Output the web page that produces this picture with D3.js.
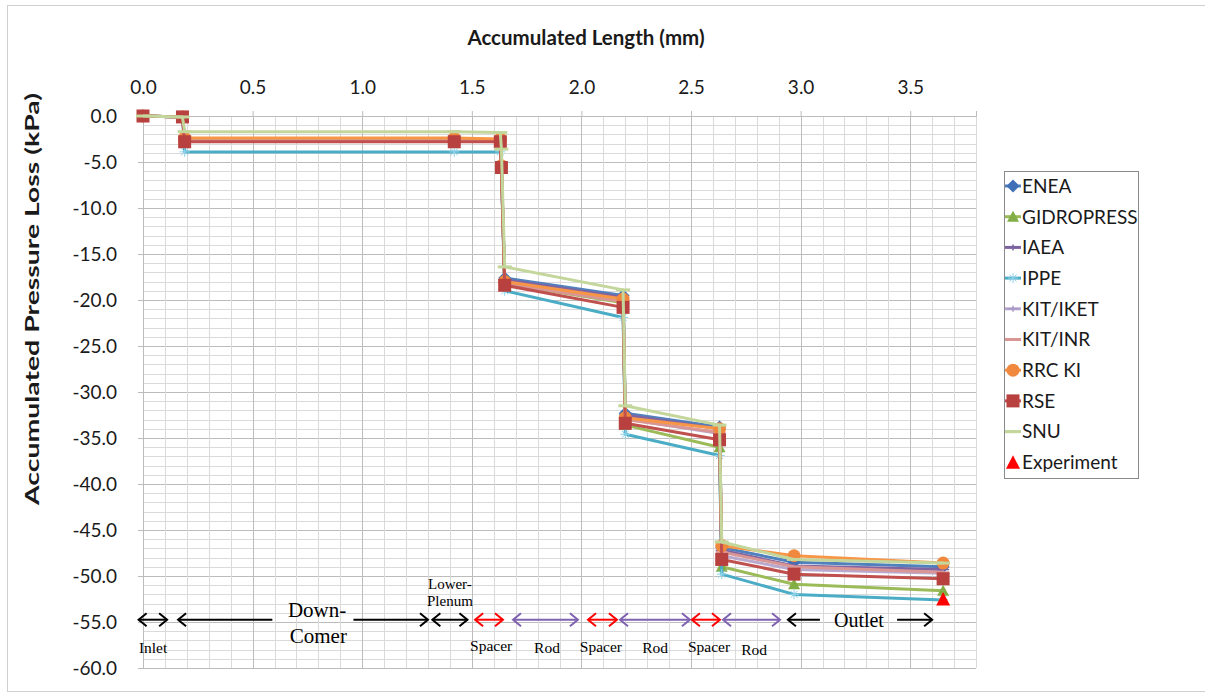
<!DOCTYPE html>
<html>
<head>
<meta charset="utf-8">
<script src="https://cdn.jsdelivr.net/npm/d3@7"></script>
<style>
  body { margin: 0; background: #fff; }
  .sans { font-family: Lato, "Open Sans", sans-serif; }
  .serif { font-family: "Liberation Serif", "DejaVu Serif", serif; }
</style>
</head>
<body>
<svg id="chart" width="1205" height="700"></svg>
<script>
// Accumulated length along the loop (mm) at each calculation node
const lengths = [0, 0.18, 0.19, 1.42, 1.63, 1.635, 1.65, 2.19, 2.2, 2.63, 2.64, 2.97, 3.65];

// Accumulated pressure loss (kPa) per participant
const enea       = [0, -0.1, -2.5, -2.5, -2.6, -5.5, -17.6, -19.5, -32.3, -33.8, -46.9, -48.5, -49.0];
const gidropress = [0, -0.1, -2.6, -2.6, -2.7, -5.6, -18.2, -20.3, -33.6, -36.0, -49.0, -50.9, -51.6];
const iaea       = [0, -0.1, -2.6, -2.6, -2.7, -5.5, -17.8, -19.7, -32.5, -34.0, -47.2, -48.9, -49.3];
const ippe       = [0, -0.1, -3.9, -3.9, -3.9, -5.8, -19.0, -21.9, -34.6, -36.9, -49.8, -52.0, -52.6];
const kitIket    = [0, -0.1, -2.7, -2.7, -2.7, -5.6, -18.1, -20.0, -32.9, -34.5, -47.8, -49.3, -49.7];
const kitInr     = [0, -0.1, -2.7, -2.7, -2.8, -5.6, -18.2, -20.2, -33.0, -34.4, -47.4, -49.0, -49.6];
const rrcKi      = [0, -0.1, -2.4, -2.4, -2.5, -5.4, -18.0, -19.9, -32.8, -34.0, -46.7, -47.8, -48.6];
const rse        = [0, -0.1, -2.8, -2.8, -2.8, -5.6, -18.4, -20.8, -33.4, -35.2, -48.2, -49.8, -50.3];
const snu        = [0, -0.1, -1.7, -1.7, -1.8, -3.6, -16.4, -18.9, -31.5, -33.6, -46.3, -48.2, -48.6];

// Measured outlet value
const expLength = [3.65];
const expLoss   = [-52.5];

const seriesNames = ["ENEA", "GIDROPRESS", "IAEA", "IPPE", "KIT/IKET", "KIT/INR", "RRC KI", "RSE", "SNU", "Experiment"];

// Axis ticks
const xTicks = [0, 0.5, 1.0, 1.5, 2.0, 2.5, 3.0, 3.5];
const yTicks = [0, -5, -10, -15, -20, -25, -30, -35, -40, -45, -50, -55, -60];

// Section annotations along the flow path (positions in mm / kPa)
const spanFrom  = [-0.02, 0.16, 0.96, 1.32, 1.515, 1.688, 2.03, 2.176, 2.504, 2.646, 2.942, 3.44];
const spanTo    = [0.11, 0.59, 1.30, 1.48, 1.642, 1.984, 2.162, 2.495, 2.632, 2.906, 3.088, 3.60];
const spanHeads = ["both", "start", "end", "both", "both", "both", "both", "both", "both", "both", "start", "end"];
const spanKind  = ["plain", "plain", "plain", "plain", "spacer", "rod", "spacer", "rod", "spacer", "rod", "plain", "plain"];
const sectionText = ["Inlet", "Down-", "Comer", "Lower-", "Plenum", "Spacer", "Rod", "Spacer", "Rod", "Spacer", "Rod", "Outlet"];
const sectionX    = [0.046, 0.794, 0.80, 1.40, 1.40, 1.588, 1.843, 2.089, 2.336, 2.582, 2.788, 3.266];
const sectionY    = [-57.8, -53.7, -56.5, -50.8, -52.7, -57.6, -57.8, -57.7, -57.8, -57.7, -58.0, -54.8];
const sectionSize = [15.5, 21, 21, 15, 15, 15.5, 15.5, 15.5, 15.5, 15.5, 15.5, 20];

const svg = d3.select("#chart");

const x = d3.scaleLinear().domain([0, 3.8]).range([143, 976]);
const y = d3.scaleLinear().domain([0, -60]).range([116, 668]);

// chart frame
svg.append("rect").attr("x", 7.5).attr("y", 5.5).attr("width", 1210).attr("height", 686)
  .attr("fill", "#fff").attr("stroke", "#d0d0d0");

// grid
const grid = svg.append("g");
d3.range(0, 61).forEach(i => {
  const v = -i;
  grid.append("line").attr("x1", x(0)).attr("x2", x(3.8))
    .attr("y1", Math.round(y(v)) + 0.5).attr("y2", Math.round(y(v)) + 0.5)
    .attr("stroke", i % 5 === 0 ? "#bcbcbc" : "#dadada").attr("stroke-width", 1);
});
d3.range(0, 39).forEach(i => {
  const v = i / 10;
  grid.append("line").attr("y1", y(0)).attr("y2", y(-60))
    .attr("x1", Math.round(x(v)) + 0.5).attr("x2", Math.round(x(v)) + 0.5)
    .attr("stroke", i % 5 === 0 ? "#bcbcbc" : "#dadada").attr("stroke-width", 1);
});

// axes
const xAxis = svg.append("g").attr("transform", `translate(0,${y(0)})`)
  .call(d3.axisTop(x).tickValues(xTicks).tickFormat(d3.format(".1f")).tickSize(5).tickPadding(17));
const yAxis = svg.append("g").attr("transform", `translate(${x(0)},0)`)
  .call(d3.axisLeft(y).tickValues(yTicks).tickFormat(d3.format(".1f")).tickSize(5).tickPadding(21));
[xAxis, yAxis].forEach(a => {
  a.select(".domain").attr("stroke", "#bcbcbc");
  a.selectAll(".tick line").attr("stroke", "#bcbcbc");
  a.selectAll(".tick text").attr("class", "sans").attr("font-size", 19).attr("fill", "#1a1a1a");
});
yAxis.selectAll(".tick text").text(d => d === 0 ? "0.0" : d3.format(".1f")(d).replace("−", "-"));

svg.append("text").attr("class", "sans").attr("x", 586).attr("y", 45)
  .attr("text-anchor", "middle").attr("font-size", 20.5).attr("font-weight", "bold").attr("fill", "#1a1a1a")
  .text("Accumulated Length (mm)");
svg.append("text").attr("class", "sans")
  .attr("transform", "translate(39,299) rotate(-90)")
  .attr("text-anchor", "middle").attr("font-size", 19).attr("font-weight", "bold").attr("fill", "#1a1a1a")
  .attr("textLength", 412).attr("lengthAdjust", "spacingAndGlyphs")
  .text("Accumulated Pressure Loss (kPa)");

// marker shapes
function drawMarker(g, kind, color) {
  switch (kind) {
    case "diamond":
      g.append("path").attr("d", "M0,-6.5L6.5,0L0,6.5L-6.5,0Z").attr("fill", color);
      break;
    case "triangle":
      g.append("path").attr("d", "M0,-6L6,5L-6,5Z").attr("fill", color);
      break;
    case "plus":
      g.append("line").attr("x1", -6).attr("x2", 6).attr("stroke", color).attr("stroke-width", 1.5);
      g.append("line").attr("y1", -3).attr("y2", 3).attr("stroke", color).attr("stroke-width", 1.5);
      break;
    case "star":
      [0, 45, 90, 135].forEach(a => {
        const r = a * Math.PI / 180;
        g.append("line").attr("x1", -5 * Math.cos(r)).attr("y1", -5 * Math.sin(r))
          .attr("x2", 5 * Math.cos(r)).attr("y2", 5 * Math.sin(r))
          .attr("stroke", color).attr("stroke-width", 1);
      });
      break;
    case "dash":
      g.append("line").attr("x1", -6).attr("x2", 6).attr("stroke", color).attr("stroke-width", 2);
      break;
    case "wideDash":
      g.append("line").attr("x1", -7).attr("x2", 7).attr("stroke", color).attr("stroke-width", 3);
      break;
    case "circle":
      g.append("circle").attr("r", 6.5).attr("fill", color);
      break;
    case "square":
      g.append("rect").attr("x", -6.5).attr("y", -6.5).attr("width", 13).attr("height", 13).attr("fill", color);
      break;
    case "bigTriangle":
      g.append("path").attr("d", "M0,-7L7,6.5L-7,6.5Z").attr("fill", color);
      break;
  }
}

const seriesValues = [enea, gidropress, iaea, ippe, kitIket, kitInr, rrcKi, rse, snu];
const lineColors = ["#4F81BD", "#9BBB59", "#8064A2", "#4BACC6", "#B9A9CF", "#D99694", "#F79646", "#C0504D", "#C3D69B"];
const markerColors = ["#3F6FB6", "#82AE45", "#7A62A0", "#8FD3EA", "#A898C6", "#D99694", "#F0883E", "#B8413F", "#C3D69B"];
const markerKinds = ["diamond", "triangle", "plus", "star", "plus", "dash", "circle", "square", "wideDash"];

const line = d3.line().x(d => x(d[0])).y(d => y(d[1]));
const plot = svg.append("g");

seriesValues.forEach((vals, i) => {
  const pts = lengths.map((l, k) => [l, vals[k]]);
  const g = plot.append("g");
  g.append("path").attr("d", line(pts)).attr("fill", "none")
    .attr("stroke", lineColors[i]).attr("stroke-width", 3).attr("stroke-linejoin", "round");
  pts.forEach(p => {
    const m = g.append("g").attr("transform", `translate(${x(p[0])},${y(p[1])})`);
    drawMarker(m, markerKinds[i], markerColors[i]);
  });
});

expLength.forEach((l, k) => {
  const m = plot.append("g").attr("transform", `translate(${x(l)},${y(expLoss[k])})`);
  drawMarker(m, "bigTriangle", "#FF0000");
});

// section arrows
const kindColor = { plain: "#000", spacer: "#FF0000", rod: "#7F62B0" };
const ann = svg.append("g");
const arrowY = y(-54.75);
function chevron(px, dir, color) {
  // dir = -1 pointing left, +1 pointing right
  ann.append("polyline")
    .attr("points", `${px - dir * 8},${arrowY - 6.5} ${px},${arrowY} ${px - dir * 8},${arrowY + 6.5}`)
    .attr("fill", "none").attr("stroke", color).attr("stroke-width", 2);
}
spanFrom.forEach((f, i) => {
  const c = kindColor[spanKind[i]];
  const x0 = x(f), x1 = x(spanTo[i]);
  ann.append("line").attr("x1", x0).attr("x2", x1).attr("y1", arrowY).attr("y2", arrowY)
    .attr("stroke", c).attr("stroke-width", 2);
  if (spanHeads[i] === "both" || spanHeads[i] === "start") chevron(x0, -1, c);
  if (spanHeads[i] === "both" || spanHeads[i] === "end") chevron(x1, 1, c);
});
sectionText.forEach((t, i) => {
  ann.append("text").attr("class", "serif")
    .attr("x", x(sectionX[i])).attr("y", y(sectionY[i]))
    .attr("dy", "0.35em").attr("text-anchor", "middle")
    .attr("font-size", sectionSize[i]).attr("fill", "#000").text(t);
});

// legend
const legend = svg.append("g");
legend.append("rect").attr("x", 1004.5).attr("y", 171.5).attr("width", 134).attr("height", 307)
  .attr("fill", "#fff").attr("stroke", "#8a8a8a");
seriesNames.forEach((name, i) => {
  const ly = 186 + i * 30.7;
  const row = legend.append("g").attr("transform", `translate(1013,${ly})`);
  if (i < 9) {
    row.append("line").attr("x1", -8).attr("x2", 8).attr("stroke", lineColors[i]).attr("stroke-width", 3);
    drawMarker(row, markerKinds[i], markerColors[i]);
  } else {
    drawMarker(row, "bigTriangle", "#FF0000");
  }
  legend.append("text").attr("class", "sans").attr("x", 1022).attr("y", ly)
    .attr("dy", "0.36em").attr("font-size", 19).attr("fill", "#1a1a1a").text(name);
});
</script>
</body>
</html>
